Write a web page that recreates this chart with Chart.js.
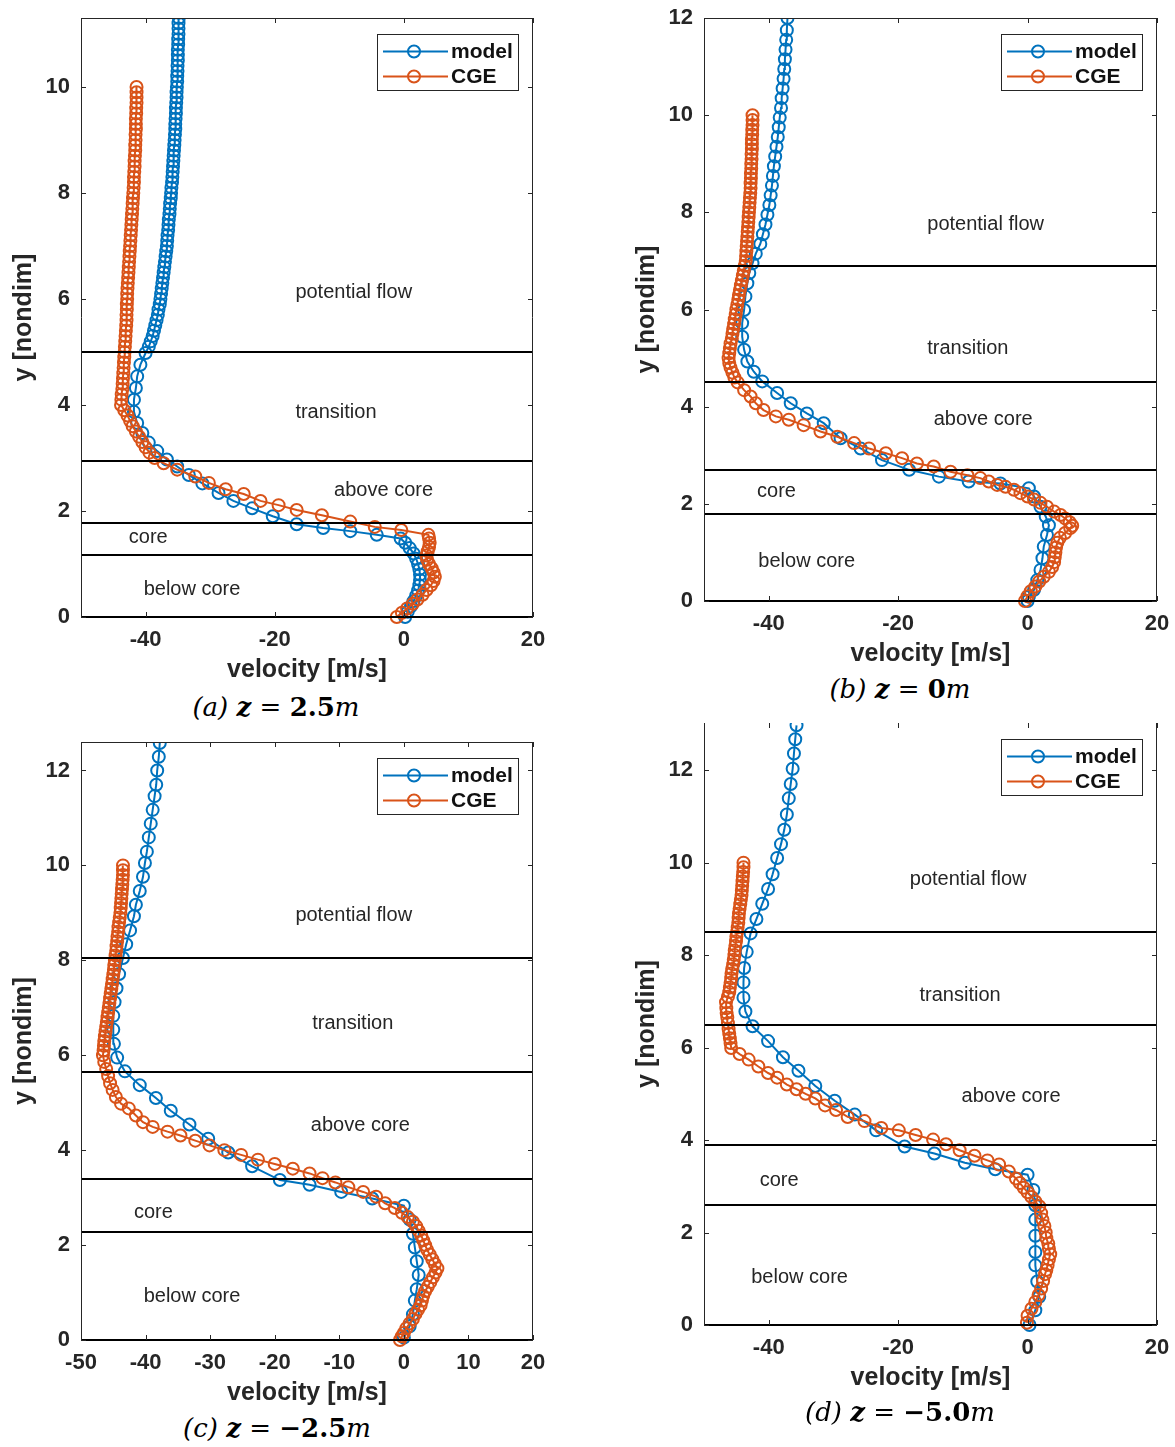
<!DOCTYPE html>
<html>
<head>
<meta charset="utf-8">
<title>Velocity profiles</title>
<script src="https://cdn.jsdelivr.net/npm/chart.js@4.4.1/dist/chart.umd.min.js"></script>
<style>
  body { margin: 0; background: #fff; width: 1175px; height: 1447px; position: relative; overflow: hidden; }
  canvas { position: absolute; }
  .caption {
    position: absolute; width: 320px; text-align: center;
    font-family: "DejaVu Serif", "Liberation Serif", serif;
    font-size: 26px; line-height: 30px; color: #000; white-space: nowrap;
  }
  .caption i { font-style: italic; }
  .caption b { font-weight: bold; }
</style>
</head>
<body>

<canvas id="panelA" width="560" height="690" style="left:0;top:0"></canvas>
<canvas id="panelB" width="553" height="674" style="left:622px;top:0"></canvas>
<canvas id="panelC" width="560" height="689" style="left:0;top:724px"></canvas>
<canvas id="panelD" width="553" height="694" style="left:622px;top:704px"></canvas>

<div class="caption" style="left:116px;top:692px"><i>(a)</i> <b><i>z</i></b> = <b>2.5</b><i>m</i></div>
<div class="caption" style="left:740px;top:674px"><i>(b)</i> <b><i>z</i></b> = <b>0</b><i>m</i></div>
<div class="caption" style="left:117px;top:1413px"><i>(c)</i> <b><i>z</i></b> = <b>&minus;2.5</b><i>m</i></div>
<div class="caption" style="left:740px;top:1397px"><i>(d)</i> <b><i>z</i></b> = <b>&minus;5.0</b><i>m</i></div>

<script>
// ---- shared axis / label data ----
const regionNames = ['potential flow', 'transition', 'above core', 'core', 'below core'];
const xTicksCoarse = [-40, -20, 0, 20];
const xTicksFine = [-50, -40, -30, -20, -10, 0, 10, 20];
const yTicksTo10 = [0, 2, 4, 6, 8, 10];
const yTicksTo12 = [0, 2, 4, 6, 8, 10, 12];

// ---- (a) z = 2.5 m ----
const aModelY = [0, 0.1, 0.2, 0.3, 0.4, 0.5, 0.6, 0.7, 0.8, 0.9, 1.0, 1.1, 1.2, 1.3, 1.4,
  1.48, 1.55, 1.62, 1.68, 1.75, 1.9, 2.05, 2.19, 2.34, 2.52, 2.68, 2.84, 2.97, 3.13, 3.29,
  3.47, 3.66, 3.87, 4.1, 4.32, 4.54, 4.76, 4.98,
  5.1, 5.2, 5.3, 5.4, 5.5, 5.6, 5.7, 5.8, 5.9, 6.0,
  6.1, 6.2, 6.3, 6.4, 6.5, 6.6, 6.7, 6.8, 6.9, 7.0,
  7.1, 7.2, 7.3, 7.4, 7.5, 7.6, 7.7, 7.8, 7.9, 8.0,
  8.1, 8.2, 8.3, 8.4, 8.5, 8.6, 8.7, 8.8, 8.9, 9.0,
  9.1, 9.2, 9.3, 9.4, 9.5, 9.6, 9.7, 9.8, 9.9, 10.0,
  10.1, 10.2, 10.3, 10.4, 10.5, 10.6, 10.7, 10.8, 10.9, 11.0,
  11.1, 11.2, 11.3, 11.4];
const aModelV = [0.2, 0.6, 1.1, 1.5, 1.9, 2.2, 2.4, 2.5, 2.5, 2.4, 2.2, 1.9, 1.5, 0.9, 0.2,
  -0.5, -4.2, -8.3, -12.5, -16.6, -20.3, -23.5, -26.4, -28.7, -31.2, -33.3, -35.1, -36.7, -38.2, -39.5,
  -40.5, -41.3, -41.8, -41.8, -41.5, -41.3, -40.8, -40.0,
  -39.5, -39.2, -38.9, -38.7, -38.5, -38.3, -38.1, -38.0, -37.8, -37.7,
  -37.6, -37.5, -37.4, -37.3, -37.2, -37.1, -37.0, -36.9, -36.8, -36.7,
  -36.65, -36.6, -36.5, -36.45, -36.4, -36.3, -36.25, -36.2, -36.1, -36.05,
  -36.0, -35.9, -35.85, -35.8, -35.75, -35.7, -35.65, -35.6, -35.55, -35.5,
  -35.45, -35.4, -35.4, -35.35, -35.3, -35.3, -35.25, -35.2, -35.2, -35.15,
  -35.1, -35.1, -35.05, -35.05, -35.0, -35.0, -35.0, -34.95, -34.95, -34.9,
  -34.9, -34.9, -34.85, -34.85];
const aCgeY = [0, 0.08, 0.16, 0.25, 0.33, 0.42, 0.51, 0.6, 0.68, 0.76, 0.84, 0.92, 1.0, 1.08, 1.16,
  1.24, 1.32, 1.4, 1.48, 1.55, 1.64, 1.7, 1.8, 1.92, 2.02, 2.11, 2.19, 2.32, 2.41, 2.53,
  2.65, 2.78, 2.9, 3.0, 3.1, 3.2, 3.3, 3.4, 3.5, 3.6, 3.7, 3.8, 3.9, 4.0,
  4.1, 4.2, 4.3, 4.4, 4.5, 4.6, 4.7, 4.8, 4.9, 5.0,
  5.1, 5.2, 5.3, 5.4, 5.5, 5.6, 5.7, 5.8, 5.9, 6.0,
  6.1, 6.2, 6.3, 6.4, 6.5, 6.6, 6.7, 6.8, 6.9, 7.0,
  7.1, 7.2, 7.3, 7.4, 7.5, 7.6, 7.7, 7.8, 7.9, 8.0,
  8.1, 8.2, 8.3, 8.4, 8.5, 8.6, 8.7, 8.8, 8.9, 9.0,
  9.1, 9.2, 9.3, 9.4, 9.5, 9.6, 9.7, 9.8, 9.9, 10.0];
const aCgeV = [-1.1, -0.3, 0.5, 1.4, 2.1, 2.9, 3.5, 4.2, 4.6, 4.8, 4.6, 4.3, 3.9, 3.6, 3.5,
  3.7, 3.9, 4.0, 3.9, 3.8, -0.4, -4.5, -8.3, -12.7, -16.6, -19.4, -22.2, -24.8, -27.6, -30.2,
  -32.3, -35.1, -37.2, -38.6, -39.4, -40.0, -40.5, -41.0, -41.5, -42.0, -42.4, -42.8, -43.3, -43.8,
  -43.75, -43.7, -43.6, -43.55, -43.5, -43.45, -43.4, -43.35, -43.3, -43.25,
  -43.2, -43.15, -43.1, -43.05, -43.0, -42.95, -42.95, -42.9, -42.9, -42.85,
  -42.85, -42.8, -42.75, -42.7, -42.65, -42.6, -42.55, -42.5, -42.45, -42.4,
  -42.35, -42.3, -42.25, -42.2, -42.15, -42.1, -42.05, -42.0, -41.95, -41.9,
  -41.85, -41.8, -41.8, -41.75, -41.7, -41.7, -41.65, -41.6, -41.6, -41.55,
  -41.55, -41.5, -41.5, -41.5, -41.45, -41.45, -41.4, -41.4, -41.4, -41.4];
const aBounds = [0, 1.17, 1.78, 2.95, 5.0];

// ---- (b) z = 0 m ----
const bModelY = [0, 0.09, 0.23, 0.43, 0.64, 0.88, 1.12, 1.36, 1.56, 1.74, 1.94, 2.15, 2.32,
  2.42, 2.46, 2.56, 2.7, 2.9, 3.14, 3.35, 3.66, 3.86, 4.07, 4.28, 4.52, 4.72, 4.93, 5.17,
  5.44, 5.72, 5.99, 6.27, 6.54, 6.75,
  6.95, 7.15, 7.35, 7.55, 7.75, 7.95, 8.15, 8.35, 8.55, 8.75, 8.95, 9.15, 9.35,
  9.55, 9.75, 9.95, 10.15, 10.35, 10.55, 10.75, 10.95, 11.15, 11.35, 11.55, 11.75, 12.0];
const bModelV = [0, 0.2, 1.0, 1.5, 2.0, 2.3, 2.5, 3.0, 3.3, 2.8, 2.0, 1.0, 0.2,
  -4.2, -9.1, -13.7, -18.3, -22.5, -25.8, -28.9, -31.5, -34.1, -36.6, -38.7, -41.0, -42.3, -43.3, -43.8,
  -44.1, -44.1, -43.8, -43.6, -43.3, -43.0,
  -42.5, -42.0, -41.3, -40.9, -40.5, -40.2, -39.9, -39.7, -39.5, -39.35, -39.2, -39.0, -38.8,
  -38.6, -38.45, -38.3, -38.1, -38.0, -37.85, -37.7, -37.6, -37.5, -37.4, -37.3, -37.2, -37.1];
const bCgeY = [0, 0.1, 0.2, 0.3, 0.4, 0.5, 0.6, 0.7, 0.8, 0.9, 1.0, 1.1, 1.2, 1.3, 1.4, 1.5,
  1.55, 1.62, 1.7, 1.77, 1.84, 1.94, 2.02, 2.09, 2.15, 2.22, 2.29, 2.35, 2.39, 2.46,
  2.53, 2.59, 2.66, 2.77, 2.83, 2.94, 3.04, 3.14, 3.25, 3.38, 3.49, 3.62, 3.73, 3.8,
  3.93, 4.07, 4.21, 4.34, 4.5, 4.6, 4.7, 4.8, 4.9, 5.0,
  5.1, 5.2, 5.3, 5.4, 5.5, 5.6, 5.7, 5.8, 5.9, 6.0,
  6.1, 6.2, 6.3, 6.4, 6.5, 6.6, 6.7, 6.8, 6.9, 7.0,
  7.1, 7.2, 7.3, 7.4, 7.5, 7.6, 7.7, 7.8, 7.9, 8.0,
  8.1, 8.2, 8.3, 8.4, 8.5, 8.6, 8.7, 8.8, 8.9, 9.0,
  9.1, 9.2, 9.3, 9.4, 9.5, 9.6, 9.7, 9.8, 9.9, 10.0];
const bCgeV = [-0.4, 0.0, 0.5, 1.2, 1.8, 2.5, 3.3, 3.8, 4.1, 4.2, 4.3, 4.4, 4.6, 5.0, 5.8, 6.6,
  6.9, 6.5, 5.8, 5.1, 4.1, 3.0, 2.0, 1.0, 0.0, -1.1, -2.1, -3.4, -4.7, -6.0,
  -7.3, -9.3, -11.9, -14.5, -17.1, -19.4, -21.9, -24.5, -26.8, -29.4, -32.0, -34.6, -36.9, -38.9,
  -40.8, -42.0, -42.8, -43.8, -44.8, -45.3, -45.6, -45.9, -46.1, -46.2,
  -46.1, -46.0, -45.9, -45.7, -45.6, -45.5, -45.35, -45.25, -45.1, -45.0,
  -44.85, -44.7, -44.6, -44.45, -44.3, -44.15, -44.0, -43.85, -43.7, -43.55,
  -43.5, -43.45, -43.4, -43.35, -43.3, -43.25, -43.2, -43.15, -43.1, -43.05,
  -43.0, -42.95, -42.9, -42.85, -42.8, -42.8, -42.75, -42.75, -42.7, -42.7,
  -42.65, -42.65, -42.6, -42.6, -42.6, -42.55, -42.55, -42.5, -42.5, -42.5];
const bBounds = [0, 1.8, 2.7, 4.5, 6.9];

// ---- (c) z = -2.5 m ----
const cModelY = [0.05, 0.29, 0.54, 0.83, 1.07, 1.37, 1.66, 1.95, 2.24, 2.54, 2.83,
  2.98, 3.12, 3.27, 3.37, 3.66, 3.95, 4.24, 4.54, 4.83, 5.1, 5.37, 5.66, 5.95,
  6.24, 6.54, 6.83, 7.12, 7.41, 7.71, 8.05, 8.34, 8.63, 8.93, 9.17, 9.46, 9.76,
  10.05, 10.29, 10.59, 10.88, 11.17, 11.46, 11.7, 12.0, 12.29, 12.58];
const cModelV = [0.0, 0.9, 1.4, 1.7, 2.0, 2.3, 2.0, 1.7, 1.4, 0.9, 0.0,
  -4.9, -9.7, -14.6, -19.2, -23.5, -27.2, -30.3, -33.2, -36.1, -38.4, -40.9, -43.2, -44.4,
  -44.9, -45.0, -45.0, -44.8, -44.5, -44.1, -43.5, -43.0, -42.4, -41.8, -41.5, -40.9, -40.4,
  -40.1, -39.8, -39.5, -39.2, -38.9, -38.6, -38.35, -38.2, -37.95, -37.8];
const cCgeY = [0, 0.08, 0.15, 0.25, 0.35, 0.44, 0.55, 0.64, 0.73, 0.83, 0.93, 1.03, 1.12, 1.22,
  1.32, 1.42, 1.51, 1.6, 1.7, 1.8, 1.9, 2.0, 2.1, 2.2, 2.3, 2.4, 2.49, 2.59, 2.68, 2.78,
  2.88, 3.02, 3.12, 3.22, 3.32, 3.41, 3.51, 3.61, 3.71, 3.8, 3.9, 4.0, 4.1, 4.2,
  4.31, 4.39, 4.49, 4.59, 4.73, 4.88, 4.98, 5.12, 5.27, 5.41, 5.56, 5.71, 5.86, 6.0,
  6.1, 6.2, 6.3, 6.4, 6.5, 6.6, 6.7, 6.8, 6.9, 7.0,
  7.1, 7.2, 7.3, 7.4, 7.5, 7.6, 7.7, 7.8, 7.9, 8.0,
  8.1, 8.2, 8.3, 8.4, 8.5, 8.6, 8.7, 8.8, 8.9, 9.0,
  9.1, 9.2, 9.3, 9.4, 9.5, 9.6, 9.7, 9.8, 9.9, 10.0];
const cCgeV = [-0.6, -0.3, 0.0, 0.4, 0.9, 1.4, 1.8, 2.2, 2.6, 2.8, 3.0, 3.3, 3.7, 4.1,
  4.5, 4.9, 5.2, 4.8, 4.4, 4.0, 3.6, 3.3, 3.0, 2.7, 2.3, 1.9, 1.4, 0.6, -0.3, -1.4,
  -2.9, -4.3, -6.3, -8.6, -10.6, -12.6, -14.6, -17.2, -20.0, -22.6, -25.2, -27.8, -30.1, -32.3,
  -34.6, -36.6, -38.9, -40.4, -41.5, -42.6, -43.8, -44.6, -45.1, -45.5, -45.8, -46.1, -46.4, -46.6,
  -46.5, -46.45, -46.4, -46.3, -46.2, -46.1, -46.0, -45.9, -45.8, -45.7,
  -45.6, -45.5, -45.4, -45.3, -45.2, -45.1, -45.0, -44.9, -44.85, -44.75,
  -44.65, -44.55, -44.5, -44.4, -44.35, -44.25, -44.2, -44.1, -44.0, -43.9,
  -43.85, -43.8, -43.75, -43.7, -43.65, -43.6, -43.55, -43.5, -43.5, -43.5];
const cBounds = [0, 2.28, 3.4, 5.65, 8.05];

// ---- (d) z = -5.0 m ----
const dModelY = [0, 0.32, 0.61, 0.94, 1.29, 1.58, 1.93, 2.28, 2.59, 2.92, 3.25,
  3.37, 3.51, 3.71, 3.86, 4.21, 4.55, 4.85, 5.17, 5.5, 5.79, 6.14, 6.46, 6.78,
  7.08, 7.41, 7.72, 8.07, 8.47, 8.78, 9.11, 9.43, 9.75, 10.1, 10.4, 10.71,
  11.04, 11.39, 11.7, 12.03, 12.36, 12.67, 12.97];
const dModelV = [0.3, 1.2, 1.8, 1.5, 1.2, 1.2, 1.2, 1.2, 1.2, 0.9, 0.0,
  -5.0, -9.7, -14.4, -19.0, -23.4, -26.7, -29.8, -32.8, -35.4, -37.8, -40.1, -42.5, -43.6,
  -43.9, -43.9, -43.8, -43.4, -42.8, -41.9, -41.0, -40.1, -39.4, -38.7, -38.1, -37.6,
  -37.2, -36.9, -36.6, -36.3, -36.1, -35.9, -35.7];
const dCgeY = [0.05, 0.2, 0.35, 0.5, 0.65, 0.79, 0.95, 1.1, 1.19, 1.3, 1.42, 1.53, 1.65, 1.76,
  1.88, 2.0, 2.14, 2.28, 2.42, 2.57, 2.67, 2.77, 2.87, 2.97, 3.07, 3.17, 3.32, 3.47,
  3.56, 3.66, 3.78, 3.91, 4.01, 4.11, 4.21, 4.26, 4.41, 4.5, 4.65, 4.75, 4.9, 5.0,
  5.1, 5.2, 5.35, 5.45, 5.59, 5.74, 5.86, 5.99, 6.1, 6.2, 6.3, 6.4, 6.53, 6.65, 6.75, 6.85, 6.98,
  7.1, 7.2, 7.3, 7.4, 7.5, 7.6, 7.7, 7.8, 7.9, 8.0,
  8.1, 8.2, 8.3, 8.4, 8.5, 8.6, 8.7, 8.8, 8.9, 9.0,
  9.1, 9.2, 9.3, 9.4, 9.5, 9.6, 9.7, 9.8, 9.9, 10.0];
const dCgeV = [-0.1, 0.0, 0.6, 1.2, 1.7, 2.1, 2.4, 2.7, 2.9, 3.1, 3.3, 3.5, 3.3, 3.2,
  2.9, 2.8, 2.6, 2.3, 2.1, 1.8, 1.2, 0.6, 0.0, -0.6, -1.2, -1.8, -2.9, -4.4,
  -6.2, -8.2, -10.5, -12.6, -14.6, -17.3, -19.9, -22.6, -25.2, -27.8, -29.6, -31.3, -32.8, -34.3,
  -35.7, -37.2, -38.7, -40.1, -41.6, -43.1, -44.5, -45.8, -45.9, -46.0, -46.1, -46.2, -46.3, -46.4, -46.5, -46.55, -46.6,
  -46.3, -46.1, -46.0, -45.9, -45.8, -45.75, -45.65, -45.5, -45.4, -45.3,
  -45.25, -45.15, -45.05, -45.0, -44.9, -44.8, -44.7, -44.65, -44.6, -44.5,
  -44.4, -44.3, -44.2, -44.15, -44.1, -44.05, -44.0, -43.95, -43.9, -43.9];
const dBounds = [0, 2.6, 3.9, 6.48, 8.5];

const FONT = '"Liberation Sans", Arial, Helvetica, sans-serif';
const INK = '#262626';
const BLUE = '#0072BD';
const ORANGE = '#D95319';

function toPoints(ys, vs) {
  const n = Math.min(ys.length, vs.length);
  const pts = [];
  for (let i = 0; i < n; i++) pts.push({ x: vs[i], y: ys[i] });
  return pts;
}

// boundaries, box, inward ticks, region names and the legend
const panelDecor = {
  id: 'panelDecor',
  afterDatasetsDraw(chart, args, opts) {
    const { ctx, chartArea } = chart;
    const { left, right, top, bottom } = chartArea;
    const xs = chart.scales.x, ys = chart.scales.y;
    ctx.save();

    ctx.strokeStyle = '#000';
    ctx.lineWidth = 2;
    opts.bounds.forEach(b => {
      const py = Math.round(ys.getPixelForValue(b));
      ctx.beginPath();
      ctx.moveTo(left, py);
      ctx.lineTo(right, py);
      ctx.stroke();
    });

    ctx.strokeStyle = INK;
    ctx.lineWidth = 1;
    ctx.beginPath();
    ctx.moveTo(left + 0.5, bottom);
    ctx.lineTo(left + 0.5, top);
    ctx.moveTo(right - 0.5, bottom);
    ctx.lineTo(right - 0.5, top);
    if (!opts.openTop) {
      ctx.moveTo(left, top + 0.5);
      ctx.lineTo(right, top + 0.5);
    }
    xs.ticks.forEach(t => {
      const px = Math.round(xs.getPixelForValue(t.value)) + 0.5;
      ctx.moveTo(px, bottom);
      ctx.lineTo(px, bottom - 5);
      ctx.moveTo(px, top);
      ctx.lineTo(px, top + 5);
    });
    ys.ticks.forEach(t => {
      const py = Math.round(ys.getPixelForValue(t.value)) + 0.5;
      ctx.moveTo(left, py);
      ctx.lineTo(left + 5, py);
      ctx.moveTo(right, py);
      ctx.lineTo(right - 5, py);
    });
    ctx.stroke();

    ctx.fillStyle = INK;
    ctx.font = '20px ' + FONT;
    ctx.textAlign = 'left';
    ctx.textBaseline = 'middle';
    regionNames.forEach((name, i) => {
      const [v, y] = opts.labelAt[i];
      ctx.fillText(name, xs.getPixelForValue(v), ys.getPixelForValue(y));
    });

    const bw = 141, bh = 56;
    const bx = right - 15 - bw, by = top + 16;
    ctx.fillStyle = '#fff';
    ctx.fillRect(bx, by, bw, bh);
    ctx.strokeStyle = INK;
    ctx.lineWidth = 1;
    ctx.strokeRect(bx + 0.5, by + 0.5, bw, bh);
    ctx.font = 'bold 21px ' + FONT;
    chart.data.datasets.forEach((ds, i) => {
      const ry = by + 17.5 + i * 25;
      ctx.strokeStyle = ds.borderColor;
      ctx.lineWidth = 2;
      ctx.beginPath();
      ctx.moveTo(bx + 6, ry);
      ctx.lineTo(bx + 71, ry);
      ctx.stroke();
      ctx.beginPath();
      ctx.arc(bx + 37, ry, 6, 0, Math.PI * 2);
      ctx.stroke();
      ctx.fillStyle = '#111';
      ctx.fillText(ds.label, bx + 74, ry + 1);
    });

    ctx.restore();
  }
};

function seriesStyle(color) {
  return {
    showLine: true,
    borderColor: color,
    borderWidth: 2,
    pointStyle: 'circle',
    pointRadius: 6,
    pointBorderWidth: 2,
    pointBorderColor: color,
    pointBackgroundColor: 'rgba(255,255,255,0)',
    clip: { left: 10, right: 10, top: 0, bottom: 10 }
  };
}

function makePanel(id, p) {
  const tickFont = { family: FONT, size: 22, weight: 'bold' };
  const titleFont = { family: FONT, size: 25, weight: 'bold' };
  return new Chart(document.getElementById(id), {
    type: 'scatter',
    data: {
      datasets: [
        Object.assign({ label: 'model', data: toPoints(p.modelY, p.modelV), order: 1 }, seriesStyle(BLUE)),
        Object.assign({ label: 'CGE', data: toPoints(p.cgeY, p.cgeV), order: 0 }, seriesStyle(ORANGE))
      ]
    },
    options: {
      responsive: false,
      animation: false,
      devicePixelRatio: 1,
      events: [],
      layout: { padding: p.padding },
      plugins: {
        legend: { display: false },
        tooltip: { enabled: false },
        panelDecor: { bounds: p.bounds, labelAt: p.labelAt, openTop: !!p.openTop }
      },
      scales: {
        x: {
          type: 'linear',
          min: -50,
          max: 20,
          // tick marks themselves are drawn by panelDecor; tickLength only offsets the labels
          grid: { display: false, drawTicks: true, tickLength: 10 },
          border: { display: false },
          ticks: { padding: 0, color: INK, font: tickFont, maxRotation: 0, autoSkip: false, callback: v => String(v) },
          title: { display: true, text: 'velocity [m/s]', color: INK, font: titleFont, padding: 0 },
          afterBuildTicks: s => { s.ticks = p.xTicks.map(v => ({ value: v })); },
          afterFit: s => { s.height = 68; }
        },
        y: {
          type: 'linear',
          min: 0,
          max: p.yMax,
          grid: { display: false, drawTicks: true, tickLength: 11 },
          border: { display: false },
          ticks: { padding: 0, color: INK, font: tickFont, autoSkip: false, callback: v => String(v) },
          title: { display: true, text: 'y [nondim]', color: INK, font: titleFont, padding: 0 },
          afterBuildTicks: s => { s.ticks = p.yTicks.map(v => ({ value: v })); },
          afterFit: s => { s.width = 72; }
        }
      }
    },
    plugins: [panelDecor]
  });
}

makePanel('panelA', {
  modelY: aModelY, modelV: aModelV, cgeY: aCgeY, cgeV: aCgeV,
  bounds: aBounds, yMax: 11.3, xTicks: xTicksCoarse, yTicks: yTicksTo10,
  labelAt: [[-16.8, 6.13], [-16.8, 3.85], [-10.8, 2.38], [-42.6, 1.5], [-40.3, 0.52]],
  padding: { left: 9, top: 18, right: 27, bottom: 5 }
});

makePanel('panelB', {
  modelY: bModelY, modelV: bModelV, cgeY: bCgeY, cgeV: bCgeV,
  bounds: bBounds, yMax: 12, xTicks: xTicksCoarse, yTicks: yTicksTo12,
  labelAt: [[-15.5, 7.74], [-15.5, 5.2], [-14.5, 3.73], [-41.8, 2.26], [-41.6, 0.82]],
  padding: { left: 10, top: 18, right: 18, bottom: 5 }
});

makePanel('panelC', {
  modelY: cModelY, modelV: cModelV, cgeY: cCgeY, cgeV: cCgeV,
  bounds: cBounds, yMax: 12.6, xTicks: xTicksFine, yTicks: yTicksTo12,
  labelAt: [[-16.8, 8.94], [-14.2, 6.66], [-14.4, 4.51], [-41.8, 2.69], [-40.3, 0.91]],
  padding: { left: 9, top: 18, right: 27, bottom: 5 }
});

makePanel('panelD', {
  modelY: dModelY, modelV: dModelV, cgeY: dCgeY, cgeV: dCgeV,
  bounds: dBounds, yMax: 13.02, xTicks: xTicksCoarse, yTicks: yTicksTo12,
  labelAt: [[-18.2, 9.63], [-16.7, 7.12], [-10.2, 4.94], [-41.4, 3.13], [-42.7, 1.03]],
  padding: { left: 10, top: 19, right: 18, bottom: 5 },
  openTop: true
});
</script>
</body>
</html>
